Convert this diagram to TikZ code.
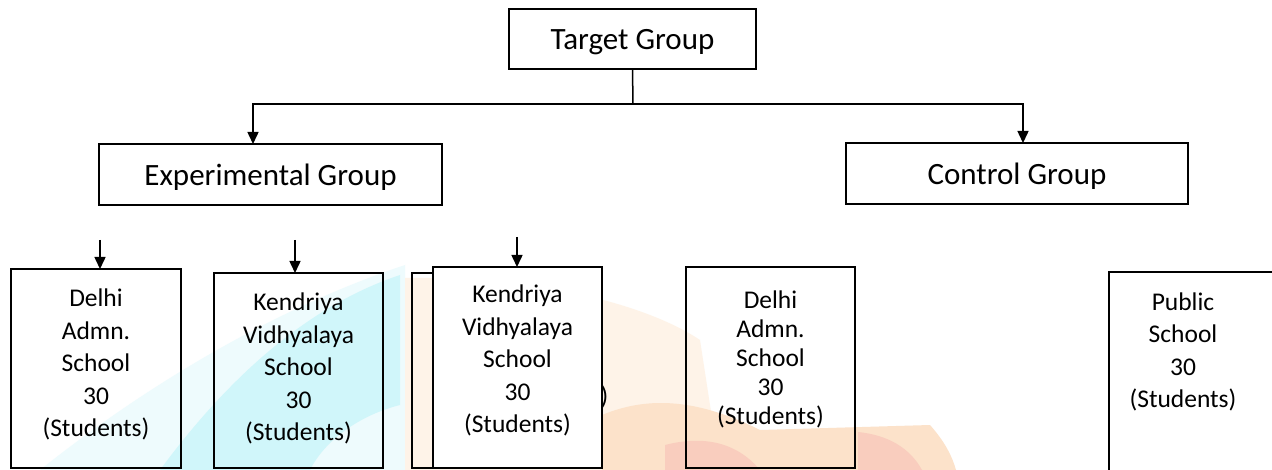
\documentclass[tikz,border=0pt]{standalone}
\usepackage{fontspec}
\setmainfont{Carlito}
\usetikzlibrary{arrows.meta}
\definecolor{wmcyan}{RGB}{208,246,250}
\definecolor{wmcyanlight}{RGB}{238,251,253}
\definecolor{wmpeach}{RGB}{254,243,232}
\definecolor{wmorange}{RGB}{252,226,202}
\definecolor{wmred}{RGB}{249,205,190}
\begin{document}
\begin{tikzpicture}[x=1pt,y=-1pt,
  box/.style={draw=black, line width=1.8pt, inner sep=0pt, outer sep=0pt},
  conn/.style={draw=black, line width=1.5pt},
  arr/.style={conn, -{Triangle[length=12pt,width=11pt]}},
  big/.style={font=\fontsize{31}{37}\selectfont, text height=22pt, text depth=0pt},
  small/.style={font=\fontsize{25.5}{32.5}\selectfont, align=center, inner sep=0pt},
  smalltight/.style={font=\fontsize{25.5}{29}\selectfont, align=center, inner sep=0pt}
]
\useasboundingbox (0,0) rectangle (1272,470);
\fill[white] (0,0) rectangle (1272,470);

% faint watermark in the background
\fill[wmcyanlight] (40,470) .. controls (140,390) and (270,310) .. (405,265) -- (405,470) -- cycle;
\fill[wmcyan] (160,470) .. controls (230,375) and (310,305) .. (400,275)
  -- (400,405) .. controls (360,415) and (325,440) .. (310,470) -- cycle;
\fill[wmpeach] (405,278) .. controls (520,275) and (640,300) .. (700,340)
  -- (720,470) -- (405,470) -- cycle;
\fill[wmorange] (602,415) .. controls (650,395) and (700,400) .. (760,430)
  -- (930,425) .. controls (945,442) and (952,456) .. (956,470) -- (602,470) -- cycle;
\fill[wmred] (665,445) .. controls (700,436) and (735,440) .. (760,470) -- (665,470) -- cycle;
\fill[wmred] (858,432) .. controls (888,435) and (910,448) .. (922,470) -- (858,470) -- cycle;

% top level
\node[box, big, minimum width=247pt, minimum height=60pt] (tg) at (632.5,39) {Target Group};
\node[box, big, minimum width=343pt, minimum height=61pt] (exp) at (270.5,174.5) {Experimental Group};
\node[box, big, minimum width=342pt, minimum height=61pt] (ctl) at (1017,173.5) {Control Group};

\coordinate (j) at (633,104);
\coordinate (hl) at (253,104);
\coordinate (hr) at (1023,104);
\draw[conn] (tg.south) -- (j);
\draw[arr] (j) -- (hl) -- (hl |- exp.north);
\draw[arr] (j) -- (hr) -- (hr |- ctl.north);

% bottom boxes
\node[box, minimum width=170pt, minimum height=199pt] (d1) at (96,368.5) {};
\node[box, minimum width=169pt, minimum height=195pt] (k1) at (298.5,370.5) {};
\node[box, minimum width=180pt, minimum height=195pt] (kb) at (502,370.5) {};
\node[small, anchor=east] (kbp) at (608.5,397) {)};
\node[box, fill=white, minimum width=169pt, minimum height=201pt] (k2) at (517.5,367.5) {};
\node[box, minimum width=169pt, minimum height=201pt] (d2) at (770.5,367.5) {};
\node[box, minimum width=181pt, minimum height=208pt] (ps) at (1199.5,376) {};

\node[small] (d1t) at (96,364.5) {Delhi\\Admn.\\School\\30\\(Students)};
\node[small] (k1t) at (298.5,368.5) {Kendriya\\Vidhyalaya\\School\\30\\(Students)};
\node[small] (k2t) at (517.5,360.5) {Kendriya\\Vidhyalaya\\School\\30\\(Students)};
\node[smalltight] (d2t) at (770.5,359.5) {Delhi\\Admn.\\School\\30\\(Students)};
\node[small] (pst) at (1183,352) {Public\\School\\30\\(Students)};

\coordinate (a1) at (100,240);
\coordinate (a2) at (295,240);
\coordinate (a3) at (517,237);
\draw[arr] (a1) -- (a1 |- d1.north);
\draw[arr] (a2) -- (a2 |- k1.north);
\draw[arr] (a3) -- (a3 |- k2.north);
\end{tikzpicture}
\end{document}
